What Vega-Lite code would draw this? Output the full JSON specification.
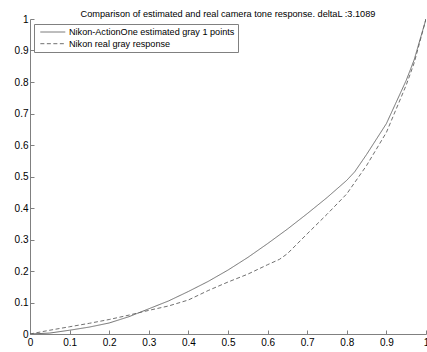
{
  "$schema": "https://vega.github.io/schema/vega-lite/v6.json",
  "width": 396,
  "height": 315,
  "autosize": {"type": "none"},
  "padding": {"left": 30, "top": 19, "right": 1, "bottom": 18},
  "background": "white",
  "title": {
    "text": "Comparison of estimated and real camera tone response. deltaL :3.1089",
    "font": "Liberation Sans",
    "fontSize": 9.2,
    "fontWeight": "normal",
    "color": "#000",
    "anchor": "middle",
    "frame": "group",
    "offset": -5
  },
  "config": {
    "view": {"stroke": null},
    "font": "Liberation Sans"
  },
  "data": {
    "values": [
      {"series": "Nikon-ActionOne estimated gray 1 points", "x": 0.0, "y": 0.0},
      {"series": "Nikon-ActionOne estimated gray 1 points", "x": 0.05, "y": 0.003},
      {"series": "Nikon-ActionOne estimated gray 1 points", "x": 0.1, "y": 0.012},
      {"series": "Nikon-ActionOne estimated gray 1 points", "x": 0.15, "y": 0.022},
      {"series": "Nikon-ActionOne estimated gray 1 points", "x": 0.2, "y": 0.035},
      {"series": "Nikon-ActionOne estimated gray 1 points", "x": 0.25, "y": 0.055},
      {"series": "Nikon-ActionOne estimated gray 1 points", "x": 0.3, "y": 0.08},
      {"series": "Nikon-ActionOne estimated gray 1 points", "x": 0.35, "y": 0.105},
      {"series": "Nikon-ActionOne estimated gray 1 points", "x": 0.4, "y": 0.135},
      {"series": "Nikon-ActionOne estimated gray 1 points", "x": 0.45, "y": 0.167},
      {"series": "Nikon-ActionOne estimated gray 1 points", "x": 0.5, "y": 0.203},
      {"series": "Nikon-ActionOne estimated gray 1 points", "x": 0.55, "y": 0.243},
      {"series": "Nikon-ActionOne estimated gray 1 points", "x": 0.6, "y": 0.287},
      {"series": "Nikon-ActionOne estimated gray 1 points", "x": 0.65, "y": 0.333},
      {"series": "Nikon-ActionOne estimated gray 1 points", "x": 0.7, "y": 0.382},
      {"series": "Nikon-ActionOne estimated gray 1 points", "x": 0.75, "y": 0.433},
      {"series": "Nikon-ActionOne estimated gray 1 points", "x": 0.8, "y": 0.488},
      {"series": "Nikon-ActionOne estimated gray 1 points", "x": 0.82, "y": 0.515},
      {"series": "Nikon-ActionOne estimated gray 1 points", "x": 0.85, "y": 0.57},
      {"series": "Nikon-ActionOne estimated gray 1 points", "x": 0.9, "y": 0.668},
      {"series": "Nikon-ActionOne estimated gray 1 points", "x": 0.95, "y": 0.805},
      {"series": "Nikon-ActionOne estimated gray 1 points", "x": 0.97, "y": 0.87},
      {"series": "Nikon-ActionOne estimated gray 1 points", "x": 1.0, "y": 1.0},
      {"series": "Nikon real gray response", "x": 0.0, "y": 0.0},
      {"series": "Nikon real gray response", "x": 0.05, "y": 0.012},
      {"series": "Nikon real gray response", "x": 0.1, "y": 0.023},
      {"series": "Nikon real gray response", "x": 0.15, "y": 0.034},
      {"series": "Nikon real gray response", "x": 0.2, "y": 0.046},
      {"series": "Nikon real gray response", "x": 0.25, "y": 0.06},
      {"series": "Nikon real gray response", "x": 0.3, "y": 0.075},
      {"series": "Nikon real gray response", "x": 0.35, "y": 0.089},
      {"series": "Nikon real gray response", "x": 0.4, "y": 0.108},
      {"series": "Nikon real gray response", "x": 0.45, "y": 0.138},
      {"series": "Nikon real gray response", "x": 0.5, "y": 0.165},
      {"series": "Nikon real gray response", "x": 0.55, "y": 0.19},
      {"series": "Nikon real gray response", "x": 0.6, "y": 0.22},
      {"series": "Nikon real gray response", "x": 0.63, "y": 0.237},
      {"series": "Nikon real gray response", "x": 0.65, "y": 0.255},
      {"series": "Nikon real gray response", "x": 0.7, "y": 0.318},
      {"series": "Nikon real gray response", "x": 0.75, "y": 0.38},
      {"series": "Nikon real gray response", "x": 0.8, "y": 0.445},
      {"series": "Nikon real gray response", "x": 0.85, "y": 0.535},
      {"series": "Nikon real gray response", "x": 0.9, "y": 0.64},
      {"series": "Nikon real gray response", "x": 0.95, "y": 0.79},
      {"series": "Nikon real gray response", "x": 0.97, "y": 0.86},
      {"series": "Nikon real gray response", "x": 1.0, "y": 1.0}
    ]
  },
  "mark": {"type": "line", "strokeWidth": 0.9, "clip": true},
  "encoding": {
    "x": {
      "field": "x", "type": "quantitative",
      "scale": {"domain": [0, 1], "nice": false, "zero": false},
      "axis": {
        "title": null, "grid": false,
        "values": [0, 0.1, 0.2, 0.3, 0.4, 0.5, 0.6, 0.7, 0.8, 0.9, 1],
        "format": ".1~f",
        "tickSize": -4, "labelPadding": 7,
        "domainColor": "#808080", "tickColor": "#808080",
        "labelColor": "#000", "labelFontSize": 10, "labelFont": "Liberation Sans",
        "labelFlush": false
      }
    },
    "y": {
      "field": "y", "type": "quantitative",
      "scale": {"domain": [0, 1], "nice": false, "zero": false},
      "axis": {
        "title": null, "grid": false,
        "values": [0, 0.1, 0.2, 0.3, 0.4, 0.5, 0.6, 0.7, 0.8, 0.9, 1],
        "format": ".1~f",
        "tickSize": -4, "labelPadding": 6,
        "domainColor": "#808080", "tickColor": "#808080",
        "labelColor": "#000", "labelFontSize": 10, "labelFont": "Liberation Sans",
        "labelFlush": false
      }
    },
    "color": {
      "field": "series", "type": "nominal",
      "scale": {
        "domain": ["Nikon-ActionOne estimated gray 1 points", "Nikon real gray response"],
        "range": ["#606060", "#606060"]
      },
      "legend": {
        "title": null, "orient": "none", "legendX": 4, "legendY": 5,
        "symbolType": "M-1,0H5", "symbolSize": 69, "symbolStrokeWidth": 0.9,
        "symbolOffset": 2.5,
        "labelFont": "Liberation Sans", "labelFontSize": 9.1, "labelColor": "#000",
        "labelOffset": 19.5, "rowPadding": 0.7, "labelLimit": 400,
        "strokeColor": "#808080", "padding": 3, "fillColor": "white"
      }
    },
    "strokeDash": {
      "field": "series", "type": "nominal",
      "scale": {
        "domain": ["Nikon-ActionOne estimated gray 1 points", "Nikon real gray response"],
        "range": [[1, 0], [4, 2.5]]
      },
      "legend": {
        "title": null, "orient": "none", "legendX": 4, "legendY": 5,
        "symbolType": "M-1,0H5", "symbolSize": 69, "symbolStrokeWidth": 0.9,
        "symbolOffset": 2.5,
        "labelFont": "Liberation Sans", "labelFontSize": 9.1, "labelColor": "#000",
        "labelOffset": 19.5, "rowPadding": 0.7, "labelLimit": 400,
        "strokeColor": "#808080", "padding": 3, "fillColor": "white"
      }
    }
  }
}
